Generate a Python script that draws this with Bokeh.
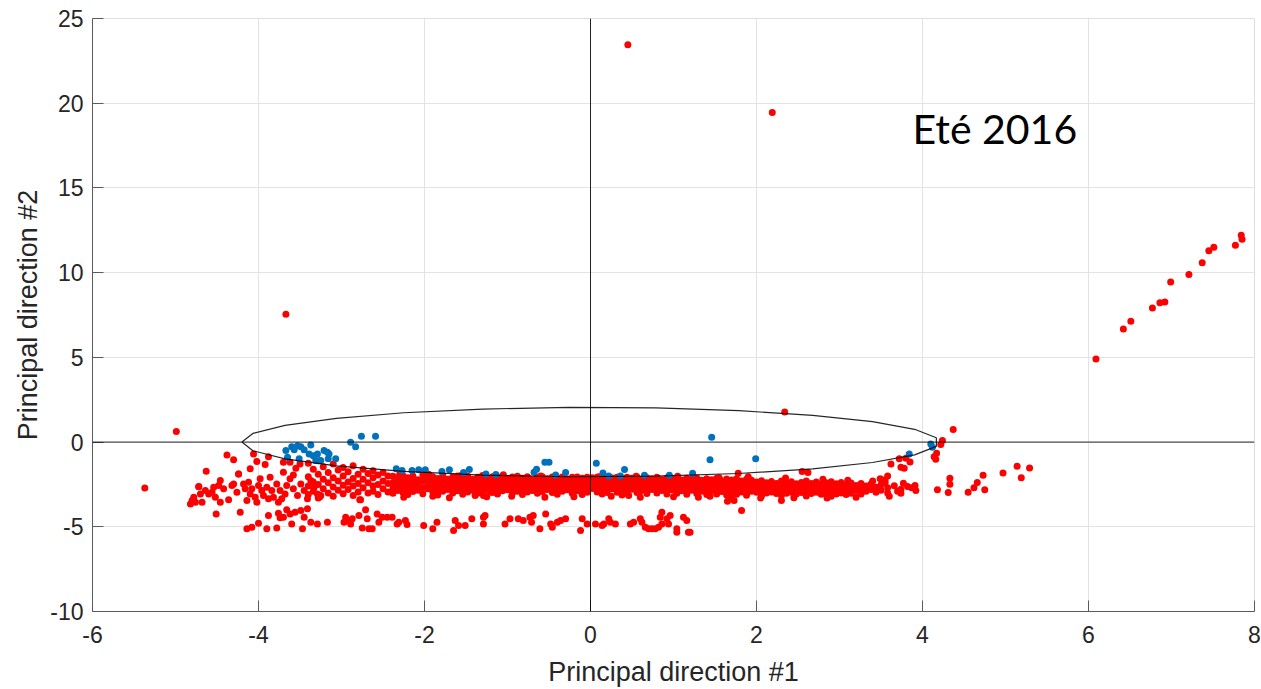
import numpy as np
from bokeh.plotting import figure
from bokeh.models import Range1d, FixedTicker, Span, Label
from bokeh.embed import file_html
from bokeh.resources import INLINE

# ---------------- data ----------------
x_ticks = [-6, -4, -2, 0, 2, 4, 6, 8]
y_ticks = [-10, -5, 0, 5, 10, 15, 20, 25]

red_far = [(0.45, 23.45), (2.19, 19.45), (-3.67, 7.55), (2.34, 1.78), (-4.99, 0.62),
           (-5.37, -2.71), (4.37, 0.74)]

red_right_arm = [(6.09, 4.91), (6.42, 6.68), (6.51, 7.13), (6.77, 7.92), (6.86, 8.22),
                 (6.92, 8.27), (6.99, 9.45), (7.21, 9.89), (7.37, 10.58), (7.45, 11.29),
                 (7.51, 11.50), (7.77, 11.62), (7.84, 12.21), (7.85, 11.97)]

red_right_group = [(4.18, -2.82), (4.31, -2.98), (4.33, -2.49), (4.33, -2.13), (4.55, -2.96),
                   (4.62, -2.69), (4.66, -2.39), (4.73, -1.96), (4.75, -2.82), (4.97, -1.82),
                   (5.14, -1.43), (5.19, -2.10), (5.29, -1.53)]

red_misc = [(4.24, 0.09), (4.22, -0.15), (4.17, -0.66), (4.14, -0.86), (4.16, -1.01),
            (3.72, -0.99), (3.80, -0.95), (3.85, -1.17), (3.62, -1.29), (3.74, -1.49),
            (3.78, -1.54), (3.58, -2.00), (3.49, -2.17), (3.55, -2.23), (3.77, -2.43),
            (2.55, -1.74), (2.62, -1.80), (2.30, -3.45), (3.91, -2.57), (3.87, -2.70),
            (1.78, -1.84), (1.82, -4.04), (1.65, -3.49), (1.73, -3.45), (-1.39, -3.16),
            (-1.29, -3.16), (0.46, -3.16), (1.44, -3.20), (-2.78, -3.40), (-3.26, -3.22),
            (-3.25, -3.16), (-2.77, -3.41)]

red_left_tail = [(-4.82, -3.65), (-4.80, -3.45), (-4.78, -3.25), (-4.76, -3.55), (-4.72, -2.62),
                 (-4.70, -3.06), (-4.68, -3.55), (-4.64, -2.86), (-4.60, -3.06), (-4.56, -2.96),
                 (-4.54, -2.66), (-4.52, -3.25), (-4.48, -2.57), (-4.46, -2.27), (-4.46, -3.55),
                 (-4.42, -2.76), (-4.36, -3.41), (-4.32, -2.57), (-4.30, -2.47), (-4.26, -2.96),
                 (-4.24, -1.88), (-4.18, -2.47), (-4.16, -2.76), (-4.14, -3.45), (-4.12, -2.37),
                 (-4.10, -3.06), (-4.08, -2.76), (-4.04, -3.25), (-4.02, -3.55), (-4.00, -2.57),
                 (-3.98, -2.17), (-3.96, -2.86), (-3.94, -3.16), (-3.90, -2.66), (-3.88, -3.35),
                 (-3.86, -2.07), (-3.84, -2.86), (-3.82, -3.25), (-3.78, -2.47), (-3.76, -3.55),
                 (-3.74, -2.86), (-3.72, -3.35), (-3.70, -1.78), (-3.68, -3.06), (-3.66, -2.57),
                 (-3.62, -2.17), (-3.58, -2.76), (-3.53, -3.16), (-3.49, -2.47), (-3.45, -2.86),
                 (-3.41, -3.35), (-3.37, -2.27), (-3.33, -2.66), (-3.29, -3.06),
                 (-4.38, -0.76), (-4.30, -1.05), (-4.63, -1.72), (-4.10, -1.58), (-4.06, -0.70),
                 (-4.02, -1.15), (-3.92, -1.33), (-3.88, -0.86), (-3.70, -1.19), (-3.62, -1.19),
                 (-4.24, -1.88), (-4.72, -2.63), (-3.55, -1.55), (-3.50, -1.30), (-3.58, -1.95)]

red_lower = [(-4.51, -4.24), (-4.22, -4.14), (-4.14, -5.12), (-4.08, -5.03), (-4.00, -4.79),
             (-3.90, -5.12), (-3.88, -4.34), (-3.78, -5.07), (-3.76, -4.20), (-3.74, -4.47),
             (-3.70, -4.44), (-3.66, -4.00), (-3.62, -4.24), (-3.60, -4.83), (-3.56, -4.14),
             (-3.49, -4.04), (-3.47, -5.12), (-3.45, -4.44), (-3.41, -3.94), (-3.37, -4.73),
             (-3.29, -4.83), (-3.17, -4.73), (-2.97, -4.73), (-2.95, -4.44), (-2.91, -4.63),
             (-2.89, -4.83), (-2.87, -4.53), (-2.79, -4.34), (-2.75, -5.07), (-2.71, -4.00),
             (-2.69, -4.53), (-2.67, -5.12), (-2.63, -5.12), (-2.57, -4.24), (-2.55, -4.73),
             (-2.51, -4.44), (-2.45, -4.44), (-2.39, -4.44), (-2.33, -4.83), (-2.31, -4.73),
             (-2.23, -4.63), (-2.21, -4.87), (-2.01, -4.93), (-1.90, -5.12), (-1.85, -4.73),
             (-1.63, -4.63), (-1.65, -5.22), (-1.59, -4.93), (-1.51, -4.93), (-1.43, -4.53),
             (-1.29, -4.44), (-1.29, -4.83), (-1.27, -4.34), (-1.03, -4.83), (-0.97, -4.53),
             (-0.87, -4.53), (-0.81, -4.63), (-0.73, -4.44), (-0.71, -4.73), (-0.69, -4.34),
             (-0.61, -5.12), (-0.54, -4.24), (-0.48, -4.83), (-0.46, -5.03), (-0.40, -4.73),
             (-0.36, -4.63), (-0.30, -4.53), (-0.10, -4.53), (-0.12, -5.22), (-0.04, -4.83),
             (0.06, -4.83), (0.14, -4.93), (0.16, -4.83), (0.22, -4.53), (0.24, -4.73),
             (0.30, -4.83), (0.48, -4.83), (0.52, -4.73), (0.60, -4.53), (0.62, -4.73),
             (0.66, -5.03), (0.70, -5.12), (0.74, -5.12), (0.78, -5.12), (0.82, -5.03),
             (0.86, -4.83), (0.84, -4.44), (0.86, -4.14), (0.92, -4.53), (0.94, -4.83),
             (0.96, -4.34), (1.04, -5.12), (1.04, -5.32), (1.12, -4.44), (1.16, -4.63),
             (1.18, -5.32), (1.20, -5.32)]

# dense band: (x, [y values at that x])
red_band = [
    (-3.40, [-1.25, -2.05, -2.60, -3.10]), (-3.34, [-1.60, -2.35, -2.90]),
    (-3.28, [-1.10, -1.90, -2.50, -3.30]), (-3.22, [-1.45, -2.20, -2.75]),
    (-3.16, [-1.80, -2.40, -3.00]), (-3.10, [-1.30, -2.10, -2.65, -3.20]),
    (-3.04, [-1.65, -2.30, -2.85]), (-2.98, [-1.50, -2.00, -2.55, -3.05]),
    (-2.92, [-1.75, -2.35, -2.80]), (-2.86, [-1.40, -2.15, -2.60, -3.15]),
    (-2.80, [-1.90, -2.45, -2.95]), (-2.74, [-1.60, -2.20, -2.70]),
    (-2.68, [-1.85, -2.40, -3.00]), (-2.62, [-1.70, -2.10, -2.60, -2.90]),
    (-2.56, [-1.95, -2.50, -3.10]), (-2.50, [-1.80, -2.30, -2.75]),
    (-2.44, [-2.00, -2.45, -2.95]),
    (-2.38, [-2.02, -2.38, -2.71, -3.02]), (-2.32, [-2.18, -2.52, -2.86]),
    (-2.26, [-1.98, -2.30, -2.64, -2.97]), (-2.20, [-2.10, -2.45, -2.78, -3.10]),
    (-2.14, [-2.00, -2.33, -2.60, -2.92]), (-2.08, [-2.22, -2.55, -2.85]),
    (-2.02, [-1.95, -2.28, -2.68, -3.05]), (-1.96, [-2.12, -2.44, -2.76]),
    (-1.90, [-2.04, -2.36, -2.62, -2.95]), (-1.84, [-2.15, -2.50, -2.82, -3.12]),
    (-1.78, [-1.98, -2.30, -2.66, -2.90]), (-1.72, [-2.20, -2.48, -2.80]),
    (-1.66, [-2.06, -2.40, -2.72, -3.00]), (-1.60, [-2.00, -2.26, -2.58, -2.88]),
    (-1.54, [-2.14, -2.46, -2.78, -3.08]), (-1.48, [-2.02, -2.34, -2.64, -2.94]),
    (-1.42, [-2.20, -2.52, -2.84]), (-1.36, [-2.08, -2.38, -2.70, -3.02]),
    (-1.30, [-1.98, -2.30, -2.60, -2.90]), (-1.24, [-2.16, -2.48, -2.80]),
    (-1.18, [-2.04, -2.36, -2.66, -2.98]), (-1.12, [-2.10, -2.42, -2.74, -3.06]),
    (-1.06, [-2.00, -2.28, -2.58, -2.88]), (-1.00, [-2.18, -2.50, -2.82]),
    (-0.94, [-2.06, -2.38, -2.68, -3.00]), (-0.88, [-2.02, -2.26, -2.56, -2.90]),
    (-0.82, [-2.14, -2.46, -2.78, -3.10]), (-0.76, [-2.04, -2.34, -2.64, -2.94]),
    (-0.70, [-2.22, -2.54, -2.86]), (-0.64, [-2.08, -2.40, -2.70, -3.02]),
    (-0.58, [-2.04, -2.30, -2.62, -2.92]), (-0.52, [-2.16, -2.48, -2.80]),
    (-0.46, [-2.06, -2.36, -2.66, -2.98]), (-0.40, [-2.12, -2.44, -2.76, -3.08]),
    (-0.34, [-2.06, -2.30, -2.60, -2.90]), (-0.28, [-2.18, -2.50, -2.82]),
    (-0.22, [-2.08, -2.38, -2.70, -3.02]), (-0.16, [-2.06, -2.28, -2.58, -2.88]),
    (-0.10, [-2.14, -2.46, -2.78, -3.10]), (-0.04, [-2.08, -2.34, -2.66, -2.96]),
    (0.02, [-2.10, -2.42, -2.74]), (0.08, [-2.08, -2.32, -2.62, -2.94]),
    (0.14, [-2.16, -2.48, -2.80, -3.06]), (0.20, [-2.08, -2.38, -2.68, -2.98]),
    (0.26, [-2.12, -2.44, -2.76]), (0.32, [-2.08, -2.34, -2.64, -2.96]),
    (0.38, [-2.18, -2.50, -2.82, -3.12]), (0.44, [-2.08, -2.40, -2.70, -3.00]),
    (0.50, [-2.14, -2.46, -2.78]), (0.56, [-2.06, -2.36, -2.66, -2.98]),
    (0.62, [-2.20, -2.52, -2.84]), (0.68, [-2.10, -2.42, -2.72, -3.04]),
    (0.74, [-2.16, -2.48, -2.80]), (0.80, [-2.08, -2.38, -2.68, -3.00]),
    (0.86, [-2.22, -2.54, -2.86]), (0.92, [-2.12, -2.44, -2.74, -3.06]),
    (0.98, [-2.18, -2.50, -2.82]), (1.04, [-2.10, -2.40, -2.70, -3.02]),
    (1.10, [-2.24, -2.56, -2.88]), (1.16, [-2.14, -2.46, -2.76, -3.08]),
    (1.22, [-2.20, -2.52, -2.84]), (1.28, [-2.12, -2.42, -2.72, -3.04]),
    (1.34, [-2.26, -2.58, -2.90]), (1.40, [-2.16, -2.48, -2.78, -3.10]),
    (1.46, [-2.22, -2.54, -2.86]), (1.52, [-2.14, -2.44, -2.74, -3.06]),
    (1.58, [-2.28, -2.60, -2.92]), (1.64, [-2.18, -2.50, -2.80, -3.12]),
    (1.70, [-2.24, -2.56, -2.88]), (1.76, [-2.16, -2.46, -2.76, -3.08]),
    (1.82, [-2.30, -2.62, -2.94]), (1.88, [-2.20, -2.52, -2.82, -3.14]),
    (1.94, [-2.26, -2.58, -2.90]), (2.00, [-2.36, -2.66, -2.96]),
    (2.06, [-2.28, -2.60, -2.92, -3.18]), (2.12, [-2.40, -2.70, -3.00]),
    (2.18, [-2.32, -2.64, -2.94]), (2.24, [-2.44, -2.74, -3.04]),
    (2.30, [-2.30, -2.60, -2.90, -3.16]), (2.36, [-2.42, -2.72, -3.02]),
    (2.42, [-2.34, -2.66, -2.96]), (2.48, [-2.46, -2.76, -3.06]),
    (2.54, [-2.38, -2.68, -2.98]), (2.60, [-2.30, -2.62, -2.92, -3.18]),
    (2.66, [-2.44, -2.74, -3.04]), (2.72, [-2.36, -2.66, -2.96]),
    (2.78, [-2.48, -2.78, -3.08]), (2.84, [-2.40, -2.70, -3.00]),
    (2.90, [-2.34, -2.64, -2.94, -3.20]), (2.96, [-2.46, -2.76, -3.06]),
    (3.02, [-2.38, -2.70, -3.00]), (3.08, [-2.50, -2.80, -3.10]),
    (3.14, [-2.42, -2.72, -3.02]), (3.20, [-2.56, -2.86]),
    (3.26, [-2.44, -2.76, -3.06]), (3.32, [-2.60, -2.90]),
    (3.38, [-2.48, -2.80]), (3.44, [-2.66, -2.96]),
    (3.50, [-2.52, -2.84]), (3.58, [-2.70, -3.00]),
    (3.66, [-2.58]), (3.74, [-2.78, -3.02]),
    (3.82, [-2.62]), (3.92, [-2.86]),
]

# irregular fringe points around the band
red_band_fringe = [(-2.30, -1.92), (-1.95, -1.90), (-1.55, -1.95), (-1.05, -1.93), (-0.60, -2.00),
                   (0.10, -2.05), (0.55, -2.02), (1.05, -2.02), (1.55, -2.10), (1.90, -2.05),
                   (2.35, -2.12), (2.80, -2.20), (3.10, -2.25), (3.40, -2.30),
                   (-2.25, -3.25), (-1.90, -3.20), (-1.70, -3.28), (-1.25, -3.22), (-0.95, -3.20),
                   (-0.55, -3.25), (-0.20, -3.22), (0.25, -3.20), (0.60, -3.25), (1.00, -3.22),
                   (1.30, -3.26), (1.70, -3.24), (2.05, -3.30), (2.45, -3.28), (2.85, -3.30),
                   (3.20, -3.25), (3.60, -3.20),
                   (-2.17, -2.62), (-1.63, -2.22), (-1.21, -2.95), (-0.79, -2.20), (-0.31, -2.68),
                   (0.11, -2.55), (0.59, -2.95), (1.13, -2.25), (1.61, -2.65), (2.09, -2.45),
                   (2.57, -2.85), (3.05, -2.55), (3.35, -2.70), (3.55, -2.40), (3.70, -2.90)]

blue_pts = [(-3.67, -0.50), (-3.60, -0.27), (-3.57, -0.46), (-3.53, -0.21), (-3.49, -0.27),
            (-3.45, -0.46), (-3.37, -0.17), (-3.39, -0.70), (-3.34, -0.80), (-3.29, -0.70),
            (-3.21, -0.50), (-3.17, -0.60), (-3.15, -0.70), (-3.65, -0.90), (-3.51, -0.99),
            (-3.31, -1.09), (-3.25, -1.09), (-3.16, -0.99), (-3.07, -0.99), (-2.89, -0.01),
            (-2.83, -0.27), (-2.76, 0.34), (-2.59, 0.34), (-2.34, -1.58), (-2.27, -1.68),
            (-2.15, -1.68), (-2.07, -1.64), (-1.99, -1.64), (-1.79, -1.74), (-1.70, -1.64),
            (-1.53, -1.80), (-1.46, -1.62), (-1.26, -1.88), (-1.14, -1.92), (-0.68, -1.78),
            (-0.65, -1.60), (-0.55, -1.19), (-0.50, -1.19), (-0.42, -1.94), (-0.30, -1.80),
            (0.07, -1.25), (0.15, -1.82), (0.22, -2.00), (0.36, -2.00), (0.41, -1.62),
            (0.65, -1.96), (0.95, -1.96), (1.23, -1.84), (1.46, 0.28), (1.44, -1.05),
            (1.99, -0.99), (3.84, -0.70), (4.10, -0.11), (4.12, -0.31)]

ellipse_a = 4.2      # semi-axis along direction #1
ellipse_b = 2.05     # semi-axis along direction #2
ellipse_n = 26       # number of vertices of the drawn curve

# ---------------- assemble ----------------
red_groups = (red_far + red_right_arm + red_right_group + red_misc + red_left_tail
              + red_lower + red_band_fringe)
band_x = [bx for bx, ys in red_band for _ in ys]
band_y = [y for _, ys in red_band for y in ys]
red_x = band_x + [pt[0] for pt in red_groups]
red_y = band_y + [pt[1] for pt in red_groups]
blue_x = [pt[0] for pt in blue_pts]
blue_y = [pt[1] for pt in blue_pts]

t = np.linspace(0, 2 * np.pi, ellipse_n)
ex = ellipse_a * np.cos(t + np.pi)
ey = ellipse_b * np.sin(t + np.pi)

TXT = "#262626"
p = figure(frame_width=1162, frame_height=593,
           min_border_left=92, min_border_right=7, min_border_top=18, min_border_bottom=78,
           x_range=Range1d(-6, 8), y_range=Range1d(-10, 25),
           output_backend="svg", toolbar_location=None,
           background_fill_color="white", border_fill_color="white")

p.outline_line_color = "#dedede"
p.grid.grid_line_color = "#e3e3e3"
p.grid.grid_line_width = 1

p.xaxis.ticker = FixedTicker(ticks=x_ticks)
p.yaxis.ticker = FixedTicker(ticks=y_ticks)
p.xaxis.major_label_overrides = {v: str(v) for v in x_ticks}
p.yaxis.major_label_overrides = {v: str(v) for v in y_ticks}
for ax in (p.xaxis[0], p.yaxis[0]):
    ax.major_tick_in = 11
    ax.major_tick_out = 0
    ax.minor_tick_line_color = None
    ax.axis_line_color = "#5a5a5a"
    ax.major_tick_line_color = "#5a5a5a"
    ax.major_label_text_font = "Liberation Sans"
    ax.major_label_text_font_size = "23px"
    ax.major_label_text_color = TXT
    ax.axis_label_text_font = "Liberation Sans"
    ax.axis_label_text_font_size = "27px"
    ax.axis_label_text_font_style = "normal"
    ax.axis_label_text_color = TXT

p.xaxis.axis_label = "Principal direction #1"
p.yaxis.axis_label = "Principal direction #2"
p.xaxis.major_label_standoff = 14
p.xaxis.axis_label_standoff = 11
p.yaxis.major_label_standoff = 9
p.yaxis.axis_label_standoff = 4

p.scatter(red_x, red_y, size=7, color="#ff0000", line_color=None)
p.scatter(blue_x, blue_y, size=7, color="#0072bd", line_color=None)

p.add_layout(Span(location=0, dimension="height", line_color="black", line_width=1, line_alpha=0.85))
p.add_layout(Span(location=0, dimension="width", line_color="black", line_width=1, line_alpha=0.85))
p.line(ex, ey, line_color="black", line_width=1.2, line_alpha=0.85)

p.add_layout(Label(x=3.88, y=18.5, text="Eté 2016", text_font="Lato", text_font_size="41px",
                   text_color="black", text_baseline="alphabetic"))

open("out.html", "w").write(file_html(p, INLINE))
